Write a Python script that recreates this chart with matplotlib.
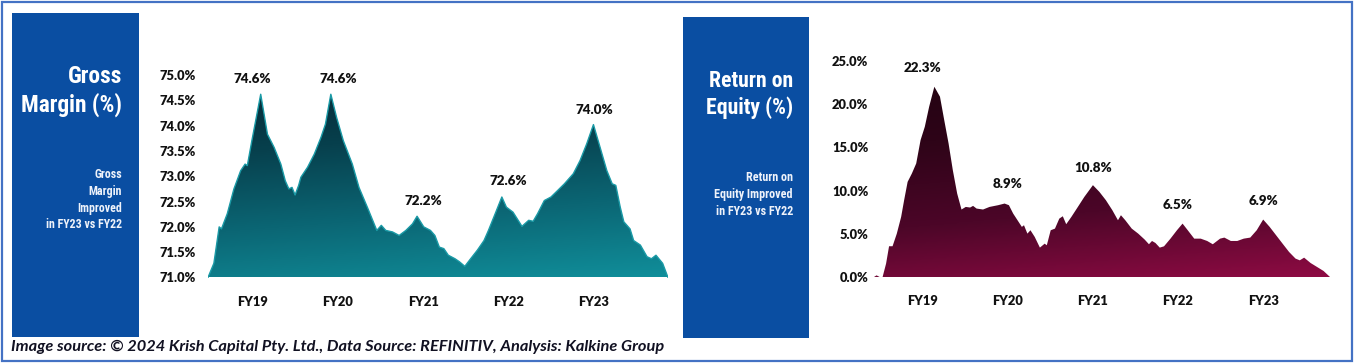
import matplotlib
matplotlib.use("Agg")
import matplotlib.pyplot as plt
import numpy as np
from matplotlib import font_manager as fm
from matplotlib.colors import LinearSegmentedColormap
from matplotlib.patches import Rectangle, PathPatch

# ---- data ----
fy_labels = ["FY19", "FY20", "FY21", "FY22", "FY23"]
gm_annual = [74.6, 74.6, 72.2, 72.6, 74.0]
roe_annual = [22.3, 8.9, 10.8, 6.5, 6.9]

# gross margin trace (position in years from FY19, value %)
gm_pos = [-0.524, -0.455, -0.393, -0.366, -0.298, -0.220, -0.141, -0.089, -0.063, -0.010,
          0.042, 0.094, 0.173, 0.251, 0.330, 0.382, 0.424, 0.461, 0.497, 0.539,
          0.565, 0.644, 0.723, 0.801, 0.853, 0.916, 0.984, 1.063, 1.168, 1.246,
          1.351, 1.455, 1.508, 1.560, 1.639, 1.717, 1.796, 1.874, 1.927, 2.005,
          2.084, 2.136, 2.188, 2.241, 2.293, 2.372, 2.424, 2.487, 2.555, 2.634,
          2.712, 2.764, 2.843, 2.921, 2.974, 3.052, 3.157, 3.236, 3.288, 3.340,
          3.419, 3.497, 3.576, 3.654, 3.759, 3.838, 3.916, 3.995, 4.073, 4.152,
          4.215, 4.257, 4.309, 4.351, 4.424, 4.466, 4.545, 4.623, 4.675, 4.728,
          4.806, 4.869]
gm_vals = [71.00, 71.28, 72.00, 71.96, 72.26, 72.75, 73.11, 73.24, 73.21, 73.70,
           74.16, 74.62, 73.83, 73.57, 73.24, 72.91, 72.75, 72.78, 72.63, 72.82,
           72.98, 73.18, 73.44, 73.77, 74.03, 74.62, 74.16, 73.70, 73.24, 72.78,
           72.36, 71.93, 72.03, 71.93, 71.90, 71.83, 71.93, 72.06, 72.21, 72.00,
           71.93, 71.83, 71.60, 71.57, 71.44, 71.37, 71.31, 71.22, 71.37, 71.54,
           71.73, 71.93, 72.26, 72.59, 72.39, 72.29, 72.01, 72.13, 72.11, 72.26,
           72.52, 72.59, 72.72, 72.85, 73.05, 73.31, 73.64, 74.02, 73.57, 73.11,
           72.85, 72.82, 72.39, 72.10, 71.96, 71.73, 71.64, 71.41, 71.37, 71.44,
           71.28, 71.00]

# return on equity trace
roe_pos = [-0.572, -0.542, -0.506, -0.471, -0.430, -0.395, -0.354, -0.304, -0.253, -0.218,
           -0.177, -0.127, -0.076, -0.025, 0.025, 0.076, 0.137, 0.203, 0.253, 0.304,
           0.354, 0.405, 0.456, 0.506, 0.557, 0.592, 0.633, 0.709, 0.785, 0.886,
           0.962, 1.013, 1.063, 1.114, 1.165, 1.190, 1.230, 1.266, 1.316, 1.377,
           1.433, 1.458, 1.504, 1.554, 1.605, 1.646, 1.686, 1.747, 1.823, 1.899,
           2.000, 2.076, 2.152, 2.228, 2.294, 2.329, 2.380, 2.456, 2.532, 2.608,
           2.658, 2.694, 2.734, 2.785, 2.835, 2.911, 2.987, 3.053, 3.114, 3.190,
           3.266, 3.342, 3.408, 3.494, 3.544, 3.620, 3.696, 3.772, 3.848, 3.924,
           4.000, 4.076, 4.152, 4.228, 4.304, 4.380, 4.430, 4.481, 4.557, 4.633,
           4.709, 4.785]
roe_vals = [0.00, 0.19, 0.00, 0.00, 1.55, 3.56, 3.56, 5.02, 6.96, 8.89,
            11.01, 11.98, 13.14, 15.84, 17.39, 19.71, 22.02, 20.87, 18.16, 15.46,
            12.36, 9.66, 7.81, 8.11, 8.04, 8.23, 7.92, 7.81, 8.11, 8.31,
            8.50, 8.31, 7.34, 6.57, 5.80, 5.99, 5.02, 5.41, 4.64, 3.40,
            3.86, 3.67, 5.41, 5.60, 6.76, 7.03, 6.11, 6.96, 8.11, 9.27,
            10.63, 9.85, 8.89, 7.73, 6.57, 7.15, 6.57, 5.60, 5.02, 4.33,
            3.79, 4.17, 3.94, 3.40, 3.55, 4.44, 5.41, 6.18, 5.41, 4.44,
            4.44, 4.17, 3.79, 4.44, 4.56, 4.17, 4.17, 4.44, 4.56, 5.41,
            6.65, 5.80, 4.83, 3.86, 2.90, 2.13, 1.93, 2.24, 1.62, 1.16,
            0.70, 0.00]

W, H = 1354, 363
fig = plt.figure(figsize=(W / 100, H / 100), dpi=100)
fig.patch.set_facecolor("white")
renderer = fig.canvas.get_renderer()

TICK_FONT = "Lato"
PANEL_BLUE = "#0a4ea2"

# pick a narrow face for the blue panels if one is around
names = {f.name for f in fm.fontManager.ttflist}
PANEL_FONT = "Lato"
PANEL_STRETCH = "normal"
for cand in ["Roboto Condensed", "Liberation Sans Narrow", "Open Sans Condensed",
             "DejaVu Sans Condensed", "Noto Sans Condensed"]:
    if cand in names:
        PANEL_FONT = cand
        break
else:
    if any(f.name == "Roboto" and f.stretch == "condensed" for f in fm.fontManager.ttflist):
        PANEL_FONT, PANEL_STRETCH = "Roboto", "condensed"


def fit_text(txt, width_px):
    # scale a text's size so it is width_px wide
    w = txt.get_window_extent(renderer).width
    txt.set_fontsize(txt.get_fontsize() * width_px / w)


def px_box(x0, y0, x1, y1):
    return [x0 / W, (H - y1) / H, (x1 - x0) / W, (y1 - y0) / H]


def panel(x0, y0, x1, y1, title, title_base, title_w, sub, sub_base, sub_w, right):
    r = px_box(x0, y0, x1, y1)
    fig.add_artist(Rectangle((r[0], r[1]), r[2], r[3], transform=fig.transFigure,
                             facecolor=PANEL_BLUE, edgecolor="none"))
    tt = [fig.text(right / W, (H - yb) / H, line, color="white", fontsize=16,
                   fontweight="bold", family=PANEL_FONT, stretch=PANEL_STRETCH,
                   ha="right", va="baseline") for line, yb in zip(title, title_base)]
    widest = max(tt, key=lambda t: t.get_window_extent(renderer).width)
    fit_text(widest, title_w)
    for t in tt:
        t.set_fontsize(widest.get_fontsize())
    st = [fig.text(right / W, (H - yb) / H, line, color="#eef2fa", fontsize=9,
                   fontweight="bold", family=PANEL_FONT, stretch=PANEL_STRETCH,
                   ha="right", va="baseline") for line, yb in zip(sub, sub_base)]
    widest = max(st, key=lambda t: t.get_window_extent(renderer).width)
    fit_text(widest, sub_w)
    for t in st:
        t.set_fontsize(widest.get_fontsize())


def gradient_area(ax, pos, vals, ylo, yhi, colors, edge=None):
    xlo, xhi = ax.get_xlim()
    poly = ax.fill_between(pos, vals, ylo, color="none", lw=0)
    path = poly.get_paths()[0]
    clip = PathPatch(path, transform=ax.transData, facecolor="none", edgecolor="none")
    ax.add_patch(clip)
    gy, gx = np.mgrid[0:1:200j, 0:1:200j]
    grad = 0.85 * gy + 0.15 * (1 - gx)
    cmap = LinearSegmentedColormap.from_list("g", colors)
    img = ax.imshow(grad, extent=[xlo, xhi, ylo, yhi], origin="lower", aspect="auto",
                    cmap=cmap, vmin=0, vmax=1, zorder=2)
    img.set_clip_path(clip)
    if edge:
        ax.plot(pos, vals, color=edge, lw=1.0, zorder=3)


def style_axes(ax, ylim, yticks, ypad):
    ax.set_ylim(*ylim)
    ax.set_yticks(yticks)
    ax.set_yticklabels([f"{t:.1f}%" for t in yticks])
    ax.set_xticks(range(len(fy_labels)))
    ax.set_xticklabels(fy_labels)
    for s in ax.spines.values():
        s.set_visible(False)
    ax.tick_params(axis="y", length=0, pad=ypad)
    ax.tick_params(axis="x", length=0, pad=13)
    for lab in ax.get_xticklabels() + ax.get_yticklabels():
        lab.set_fontfamily(TICK_FONT)
        lab.set_fontweight("heavy")
        lab.set_fontsize(9.3)
        lab.set_color("#111111")
    ax.set_facecolor("none")


def labels(ax, annual):
    for i, v in enumerate(annual):
        ax.annotate(f"{v:.1f}%", (i, v), xytext=(0, 11.5), textcoords="offset points",
                    ha="center", va="center", fontsize=9.6, fontweight="heavy",
                    family=TICK_FONT, color="#111111", annotation_clip=False)


# outer frame
fig.add_artist(Rectangle((2 / W, 2 / H), (W - 4) / W, (H - 4) / H, transform=fig.transFigure,
                         facecolor="none", edgecolor="#4472c4", lw=1.6))

panel(12, 13, 139, 337, ["Gross", "Margin (%)"], [83, 112], 101,
      ["Gross", "Margin", "Improved", "in FY23 vs FY22"], [178, 195, 212, 228], 76, 122)
panel(683, 17, 809, 338, ["Return on", "Equity (%)"], [87, 114], 87,
      ["Return on", "Equity Improved", "in FY23 vs FY22"], [181, 198, 215], 78, 793)

# gross margin
ax1 = fig.add_axes(px_box(208, 75, 668, 277.5))
ax1.set_xlim(gm_pos[0], gm_pos[-1])
style_axes(ax1, (71, 75), [71.0, 71.5, 72.0, 72.5, 73.0, 73.5, 74.0, 74.5, 75.0], 9)
gradient_area(ax1, gm_pos, gm_vals, 71, 75,
              ["#108e9a", "#0b6674", "#07404d", "#052632"], edge="#1a9aa6")
labels(ax1, gm_annual)

# return on equity
ax2 = fig.add_axes(px_box(874, 61, 1330, 277))
ax2.set_xlim(roe_pos[0], roe_pos[-1])
style_axes(ax2, (0, 25), [0, 5, 10, 15, 20, 25], 4)
gradient_area(ax2, roe_pos, roe_vals, 0, 25,
              ["#8e0b43", "#4c0628", "#2e0418", "#200310"])
labels(ax2, roe_annual)

foot = fig.text(11 / W, (H - 347) / H,
                "Image source: \u00a9 2024 Krish Capital Pty. Ltd., Data Source: REFINITIV, Analysis: Kalkine Group",
                fontsize=11, fontweight="bold", style="italic", family=TICK_FONT,
                color="#111122", ha="left", va="center")
fit_text(foot, 654)

fig.savefig("out.png", dpi=100, facecolor="white")
